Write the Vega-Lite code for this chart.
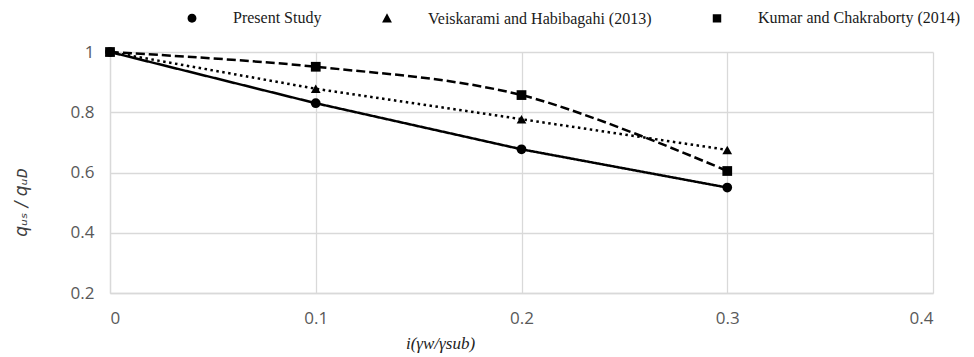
{
  "$schema": "https://vega.github.io/schema/vega-lite/v6.json",
  "width": 823,
  "height": 241,
  "autosize": {"type": "none"},
  "padding": {"left": 110, "top": 52, "right": 41, "bottom": 64},
  "background": "white",
  "config": {
    "view": {"stroke": null},
    "axis": {
      "gridColor": "#d9d9d9",
      "gridWidth": 1.3,
      "domainColor": "#d9d9d9",
      "domainWidth": 1.3,
      "ticks": false,
      "labelFont": "Open Sans",
      "labelFontSize": 17,
      "labelColor": "#595959"
    },
    "legend": {
      "title": null,
      "orient": "none",
      "legendX": 57,
      "legendY": -59,
      "direction": "horizontal",
      "padding": 0,
      "columnPadding": 36,
      "symbolSize": 2209,
      "symbolStrokeWidth": 2.5,
      "symbolOpacity": 1,
      "symbolFillColor": "black",
      "symbolStrokeColor": "black",
      "labelFont": "Liberation Serif",
      "labelFontSize": 16,
      "labelColor": "#1a1a1a",
      "labelOffset": 16,
      "labelLimit": 400
    }
  },
  "data": {
    "values": [
      {"series": "Present Study", "x": 0, "y": 1},
      {"series": "Present Study", "x": 0.1, "y": 0.83},
      {"series": "Present Study", "x": 0.2, "y": 0.677},
      {"series": "Present Study", "x": 0.3, "y": 0.55},
      {"series": "Veiskarami and Habibagahi (2013)", "x": 0, "y": 1},
      {"series": "Veiskarami and Habibagahi (2013)", "x": 0.1, "y": 0.878},
      {"series": "Veiskarami and Habibagahi (2013)", "x": 0.2, "y": 0.777},
      {"series": "Veiskarami and Habibagahi (2013)", "x": 0.3, "y": 0.675},
      {"series": "Kumar and Chakraborty (2014)", "x": 0, "y": 1},
      {"series": "Kumar and Chakraborty (2014)", "x": 0.1, "y": 0.951},
      {"series": "Kumar and Chakraborty (2014)", "x": 0.2, "y": 0.857},
      {"series": "Kumar and Chakraborty (2014)", "x": 0.3, "y": 0.605}
    ]
  },
  "encoding": {
    "x": {
      "field": "x",
      "type": "quantitative",
      "scale": {"domain": [0, 0.4], "nice": false, "zero": false},
      "axis": {
        "values": [0, 0.1, 0.2, 0.3, 0.4],
        "labelExpr": "format(datum.value, '~g')",
        "labelPadding": 17,
        "title": "i(γw/γsub)",
        "titleFont": "Liberation Serif",
        "titleFontStyle": "italic",
        "titleFontWeight": "normal",
        "titleFontSize": 17,
        "titleColor": "#222222",
        "titleX": 330,
        "titleY": 50,
        "titleAnchor": "middle",
        "titleBaseline": "middle",
        "grid": true
      }
    },
    "y": {
      "field": "y",
      "type": "quantitative",
      "scale": {"domain": [0.2, 1], "nice": false, "zero": false},
      "axis": {
        "values": [0.2, 0.4, 0.6, 0.8, 1],
        "labelExpr": "format(datum.value, '~g')",
        "labelPadding": 16,
        "title": "qᵤₛ / qᵤᴅ",
        "titleFont": "DejaVu Sans",
        "titleFontStyle": "italic",
        "titleFontWeight": "normal",
        "titleFontSize": 17,
        "titleColor": "#404040",
        "titleX": -89,
        "titleY": 150,
        "titleAnchor": "middle",
        "titleBaseline": "middle",
        "grid": true
      }
    }
  },
  "layer": [
    {
      "transform": [{"filter": "datum.series !== 'Kumar and Chakraborty (2014)'"}],
      "mark": {"type": "line", "color": "black", "strokeWidth": 2.5, "strokeCap": "butt"},
      "encoding": {
        "detail": {"field": "series", "type": "nominal"},
        "strokeDash": {
          "field": "series",
          "type": "nominal",
          "sort": null,
          "scale": {
            "domain": ["Present Study", "Veiskarami and Habibagahi (2013)", "Kumar and Chakraborty (2014)"],
            "range": [[1, 0], [2.5, 3.5], [9, 4]]
          }
        }
      }
    },
    {
      "transform": [{"filter": "datum.series === 'Kumar and Chakraborty (2014)'"}],
      "mark": {"type": "line", "color": "black", "strokeWidth": 2.5, "strokeCap": "butt", "interpolate": "catmull-rom"},
      "encoding": {
        "strokeDash": {
          "field": "series",
          "type": "nominal",
          "sort": null,
          "scale": {
            "domain": ["Present Study", "Veiskarami and Habibagahi (2013)", "Kumar and Chakraborty (2014)"],
            "range": [[1, 0], [2.5, 3.5], [9, 4]]
          }
        }
      }
    },
    {
      "description": "Invisible carrier whose shape scale gives each legend entry a line with its marker",
      "mark": {"type": "point", "filled": true, "fill": "black", "stroke": "black", "strokeWidth": 2.5, "opacity": 0, "size": 2209},
      "encoding": {
        "shape": {
          "field": "series",
          "type": "nominal",
          "sort": null,
          "scale": {
            "domain": ["Present Study", "Veiskarami and Habibagahi (2013)", "Kumar and Chakraborty (2014)"],
            "range": [
              "M-1,0L1,0M0.19,0A0.19,0.19,0,1,1,-0.19,0A0.19,0.19,0,1,1,0.19,0Z",
              "M-1,0L1,0M0,-0.22L0.21,0.17L-0.21,0.17Z",
              "M-1,0L1,0M-0.18,-0.18L0.18,-0.18L0.18,0.18L-0.18,0.18Z"
            ]
          }
        },
        "strokeDash": {
          "field": "series",
          "type": "nominal",
          "sort": null,
          "scale": {
            "domain": ["Present Study", "Veiskarami and Habibagahi (2013)", "Kumar and Chakraborty (2014)"],
            "range": [[1, 0], [2.5, 3.5], [9, 4]]
          }
        }
      }
    },
    {
      "transform": [{"filter": "datum.series === 'Present Study'"}],
      "mark": {"type": "point", "shape": "circle", "filled": true, "color": "black", "opacity": 1, "size": 95}
    },
    {
      "transform": [{"filter": "datum.series === 'Veiskarami and Habibagahi (2013)'"}],
      "mark": {"type": "point", "shape": "triangle-up", "filled": true, "color": "black", "opacity": 1, "size": 95}
    },
    {
      "transform": [{"filter": "datum.series === 'Kumar and Chakraborty (2014)'"}],
      "mark": {"type": "point", "shape": "square", "filled": true, "color": "black", "opacity": 1, "size": 95}
    }
  ]
}
